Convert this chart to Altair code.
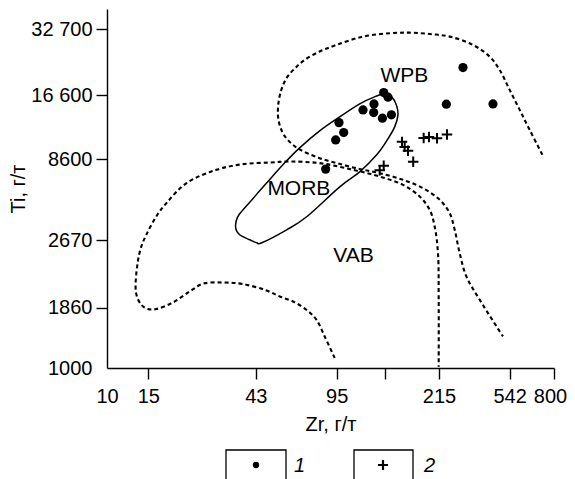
import altair as alt
import pandas as pd

# ---------------- data (Zr, Ti in g/t) ----------------
dots_zr = [327.8, 278.5, 439.8, 150.7, 157.2, 137.0, 123.0, 136.6, 148.8, 162.5, 97.2, 101.8, 94.1, 85.3]
dots_ti = [22040, 15120, 15170, 17040, 16250, 15170, 14260, 13870, 13090, 13550, 12510, 11290, 10470, 7750]

plus_zr = [180.3, 185.1, 191.2, 201.2, 222.9, 234.9, 254.1, 280.2, 150.7, 144.9]
plus_ti = [10260, 9745, 9354, 8353, 10690, 10800, 10640, 11080, 8015, 7654]

morb_zr = [152.1, 139.3, 119.1, 97.9, 80.4, 66.1, 57.1, 47.9, 39.3, 36.0, 35.3, 36.7, 40.5, 43.4,
           45.6, 58.2, 70.8, 97.9, 119.1, 140.7, 155.1, 167.8, 173.3, 170.6, 162.9]
morb_ti = [16810, 16390, 15170, 13270, 11490, 9647, 8267, 6730, 5312, 4744, 4236, 3941, 3744, 3630,
           3630, 4149, 4744, 6458, 7537, 8977, 10360, 11970, 13550, 15010, 16300]

wpb_zr = [713.9, 630.2, 571.4, 518.0, 469.7, 425.8, 361.5, 287.7, 236.5, 194.4, 159.8, 123.0, 94.8,
          80.4, 69.4, 64.0, 58.2, 54.9, 53.5, 53.7, 56.0, 59.9, 66.1, 80.4, 101.1, 123.0, 144.9,
          182.0, 221.4, 260.9, 287.7, 302.2, 317.3, 338.8, 386.1, 485.1]
wpb_ti = [8977, 11610, 14260, 17520, 21520, 24690, 27840, 30320, 31160, 31590, 31390, 30320, 27840,
          26030, 23860, 22200, 19820, 17160, 14710, 12870, 11260, 10260, 9499, 8676, 8099, 7694, 7435,
          6941, 6370, 5649, 4928, 4149, 3265, 2567, 2019, 1384]

vab_zr = [93.2, 84.5, 77.9, 70.6, 61.9, 54.4, 47.7, 37.9, 31.2, 25.6, 22.5, 19.1, 16.2, 14.9, 14.0,
          13.3, 13.5, 14.0, 14.7, 16.2, 17.9, 21.8, 29.2, 37.9, 49.3, 59.9, 80.4, 111.5, 144.9, 182.0,
          214.4, 236.5, 248.4, 256.5, 258.3, 258.3]
vab_ti = [1108, 1384, 1644, 1822, 1984, 2089, 2222, 2373, 2413, 2380, 2199, 1964, 1835, 1835, 1918,
          2163, 2946, 3494, 3941, 4758, 5462, 6709, 7694, 8157, 8293, 8379, 8241, 7694, 7179, 6592,
          5845, 5097, 4293, 3265, 2019, 1013]

region_names = ["WPB", "MORB", "VAB"]
region_zr = [184.5, 65.6, 112.1]
region_ti = [20280, 6313, 3183]

x_tick_vals = [10, 15, 43, 95, 152, 259, 518, 800]
x_tick_labels = ["10", "15", "43", "95", "", "215", "542", "800"]
y_tick_vals = [1000, 1860, 3717, 8600, 16600, 32700]
y_tick_labels = ["1000", "1860", "2670", "8600", "16 600", "32 700"]

legend_labels = ["1", "2"]

FONT = "Liberation Sans"


def label_expr(vals, labels):
    expr = "''"
    for v, l in reversed(list(zip(vals, labels))):
        expr = f"datum.value == {v} ? '{l}' : ({expr})"
    return expr


x_axis = alt.Axis(values=x_tick_vals, labelExpr=label_expr(x_tick_vals, x_tick_labels),
                  title="Zr, г/т", grid=False, tickSize=11, labelPadding=7, titlePadding=8,
                  labelFlush=False, labelOverlap=False,
                  labelOffset={"condition": {"test": "datum.value == 800", "value": -4}, "value": 0},
                  tickOpacity={"condition": {"test": "datum.value == 10", "value": 0}, "value": 1})
y_axis = alt.Axis(values=y_tick_vals, labelExpr=label_expr(y_tick_vals, y_tick_labels),
                  title="Ti, г/т", grid=False, tickSize=11, labelPadding=4, titlePadding=2,
                  labelOverlap=False,
                  tickOpacity={"condition": {"test": "datum.value == 1000", "value": 0}, "value": 1})

xs = alt.Scale(type="log", domain=[10, 800], nice=False)
ys = alt.Scale(type="log", domain=[1000, 40300], nice=False)


def X():
    return alt.X("zr:Q", scale=xs, axis=x_axis)


def Y():
    return alt.Y("ti:Q", scale=ys, axis=y_axis)


def curve_df(zr, ti):
    return pd.DataFrame({"zr": zr, "ti": ti, "i": list(range(len(zr)))})


vab = alt.Chart(curve_df(vab_zr, vab_ti)).mark_line(
    color="black", strokeWidth=2.1, strokeDash=[4, 3], interpolate="catmull-rom"
).encode(x=X(), y=Y(), order="i:Q")

wpb = alt.Chart(curve_df(wpb_zr, wpb_ti)).mark_line(
    color="black", strokeWidth=2.1, strokeDash=[4, 3], interpolate="catmull-rom"
).encode(x=X(), y=Y(), order="i:Q")

morb = alt.Chart(curve_df(morb_zr, morb_ti)).mark_line(
    color="black", strokeWidth=1.5, interpolate="cardinal-closed"
).encode(x=X(), y=Y(), order="i:Q")

dots = alt.Chart(pd.DataFrame({"zr": dots_zr, "ti": dots_ti})).mark_point(
    shape="circle", filled=True, color="black", opacity=1, size=85
).encode(x=X(), y=Y())

PLUS = "M-1,0L1,0M0,-1L0,1"
pluses = alt.Chart(pd.DataFrame({"zr": plus_zr, "ti": plus_ti})).mark_point(
    shape=PLUS, filled=False, color="black", opacity=1, size=110, strokeWidth=2
).encode(x=X(), y=Y())

regions = alt.Chart(pd.DataFrame({"zr": region_zr, "ti": region_ti, "name": region_names})).mark_text(
    font=FONT, fontSize=21, color="black", baseline="middle", align="center"
).encode(x=X(), y=Y(), text="name:N")

# ---------------- legend (below the plot) ----------------
one = pd.DataFrame({"label": [legend_labels[0]]})
two = pd.DataFrame({"label": [legend_labels[1]]})

box1 = alt.Chart(one).mark_rect(fillOpacity=0, stroke="black", strokeWidth=1.3).encode(
    x=alt.value(119), x2=alt.value(179), y=alt.value(441), y2=alt.value(500))
dot1 = alt.Chart(one).mark_point(shape="circle", filled=True, color="black", opacity=1, size=40).encode(
    x=alt.value(149), y=alt.value(456))
lab1 = alt.Chart(one).mark_text(font=FONT, fontSize=20, fontStyle="italic", align="left",
                                baseline="middle", color="black").encode(
    x=alt.value(187), y=alt.value(457), text="label:N")

box2 = alt.Chart(two).mark_rect(fillOpacity=0, stroke="black", strokeWidth=1.3).encode(
    x=alt.value(247), x2=alt.value(306), y=alt.value(441), y2=alt.value(500))
plus2 = alt.Chart(two).mark_point(shape=PLUS, filled=False, color="black", opacity=1, size=100,
                                  strokeWidth=2.2).encode(x=alt.value(276), y=alt.value(456))
lab2 = alt.Chart(two).mark_text(font=FONT, fontSize=20, fontStyle="italic", align="left",
                                baseline="middle", color="black").encode(
    x=alt.value(317), y=alt.value(457), text="label:N")

chart = alt.layer(
    vab, wpb, morb, dots, pluses, regions, box1, dot1, lab1, box2, plus2, lab2
).properties(
    width=447, height=359,
    autosize=alt.AutoSizeParams(type="none"),
    padding={"left": 99, "top": 1, "right": 13, "bottom": 111},
).configure_view(stroke=None).configure_axis(
    labelFont=FONT, titleFont=FONT, labelFontSize=20, titleFontSize=20,
    titleFontWeight="normal", labelColor="black", titleColor="black",
    domainColor="black", tickColor="black", domainWidth=1.4, tickWidth=1.4,
)

chart.save("out.html", embed_options={"renderer": "svg", "actions": False})
